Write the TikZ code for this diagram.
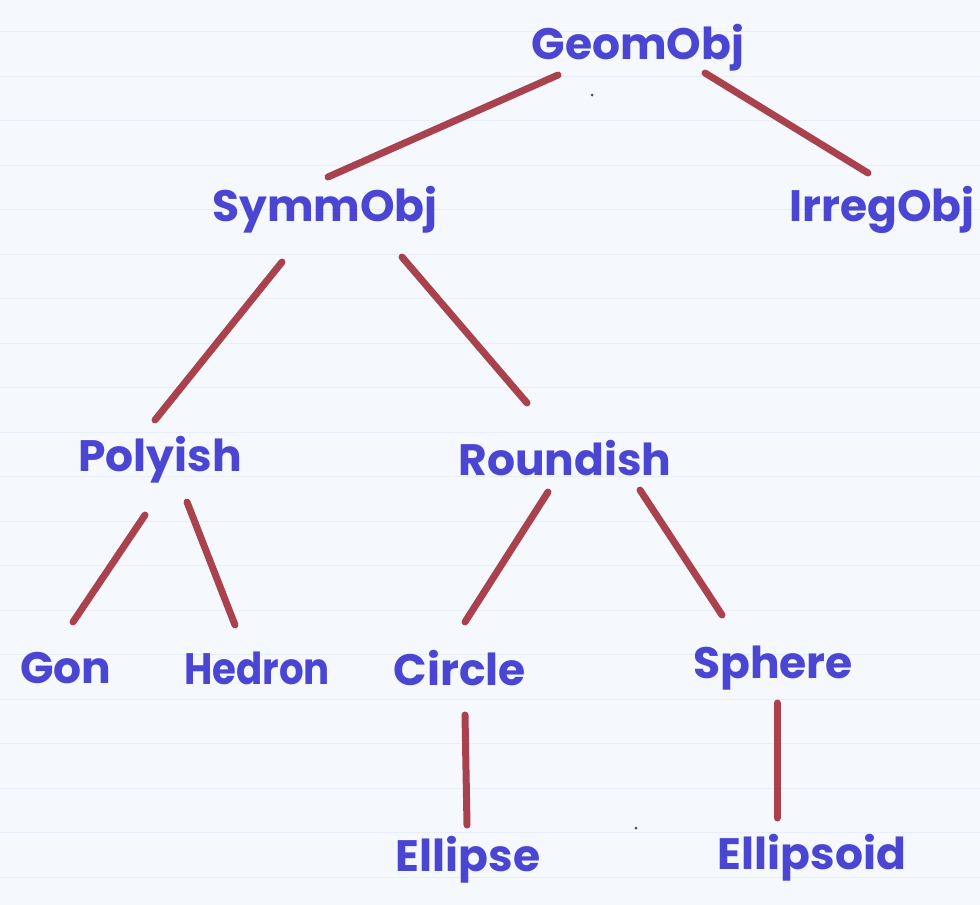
\documentclass[tikz,border=0pt]{standalone}
\usepackage{fontspec}
\setmainfont{Poppins}
\definecolor{paper}{HTML}{F5F9FE}
\definecolor{rule}{HTML}{E7EEF9}
\definecolor{ink}{HTML}{4B45D4}
\definecolor{marker}{HTML}{A9424D}
\begin{document}
\begin{tikzpicture}[x=1pt,y=-1pt,
  word/.style={text=ink, font=\fontsize{44}{44}\selectfont\bfseries, inner sep=0pt},
  branch/.style={draw=marker, line width=7pt, line cap=round}]
  % ruled paper
  \fill[paper] (0,0) rectangle (980,905);
  \useasboundingbox (0,0) rectangle (980,905);
  \foreach \k in {0,...,19}
    \draw[rule, line width=1pt] (0,31.5+44.5*\k) -- (980,31.5+44.5*\k);
  % class names
  \node[word] (geom)      at (638,48)  {GeomObj};
  \node[word] (symm)      at (325,210) {SymmObj};
  \node[word] (irreg)     at (882,210) {IrregObj};
  \node[word] (poly)      at (160,460) {Polyish};
  \node[word] (round)     at (565,458) {Roundish};
  \node[word] (gon)       at (66,668)  {Gon};
  \node[word, xscale=0.88] (hedron) at (257,668) {Hedron};
  \node[word] (circle)    at (460,668) {Circle};
  \node[word] (sphere)    at (773,668) {Sphere};
  \node[word] (ellipse)   at (468,860) {Ellipse};
  \node[word] (ellipsoid) at (812,858) {Ellipsoid};
  % inheritance branches
  \draw[branch] ([shift={(-80,27)}]geom.center) -- ([shift={(3,-33)}]symm.center);
  \draw[branch] ([shift={(67,25)}]geom.center) -- ([shift={(-14,-37)}]irreg.center);
  \draw[branch] ([shift={(-43,52)}]symm.center) -- ([shift={(-5,-40)}]poly.center);
  \draw[branch] ([shift={(77,47)}]symm.center) -- ([shift={(-38,-55)}]round.center);
  \draw[branch] ([shift={(-15,55)}]poly.center) -- ([shift={(7,-46)}]gon.center);
  \draw[branch] ([shift={(27,42)}]poly.center) -- ([shift={(-22,-43)}]hedron.center);
  \draw[branch] ([shift={(-17,34)}]round.center) -- ([shift={(5,-46)}]circle.center);
  \draw[branch] ([shift={(75,32)}]round.center) -- ([shift={(-51,-53)}]sphere.center);
  \draw[branch] ([shift={(5,47)}]circle.center) -- ([shift={(-1,-35)}]ellipse.center);
  \draw[branch] ([shift={(4,35)}]sphere.center) -- ([shift={(-35,-40)}]ellipsoid.center);
  % specks on the paper
  \fill[black!70] (592,95) circle (1.5);
  \fill[black!70] (636,828) circle (1.5);
\end{tikzpicture}
\end{document}
